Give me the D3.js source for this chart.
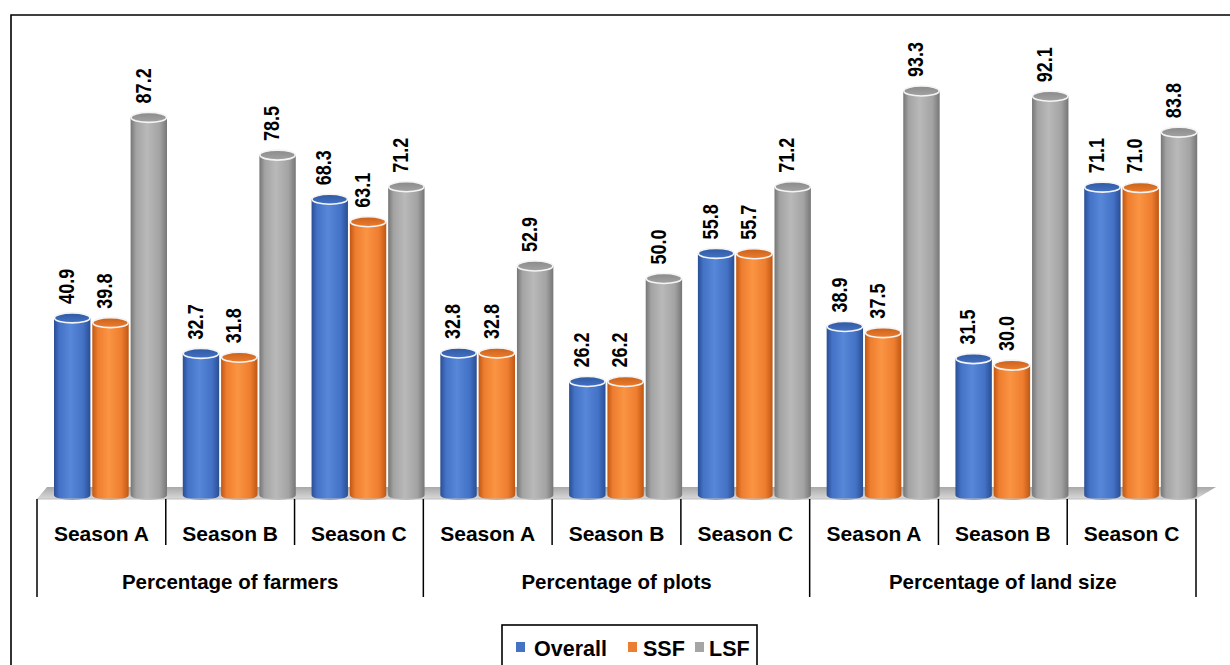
<!DOCTYPE html>
<html>
<head>
<meta charset="utf-8">
<script src="https://cdnjs.cloudflare.com/ajax/libs/d3/7.8.5/d3.min.js"></script>
<style>
  html, body { margin: 0; padding: 0; background: #fff; }
  svg { display: block; }
  text { font-family: "Liberation Sans", Arial, sans-serif; font-weight: bold; fill: #000; }
</style>
</head>
<body>
<svg id="chart" width="1230" height="665"></svg>
<script>
// ---- Data ----
const groups = ["Percentage of farmers", "Percentage of plots", "Percentage of land size"];
const seasons = ["Season A", "Season B", "Season C"];
const seriesNames = ["Overall", "SSF", "LSF"];
const overall = [40.9, 32.7, 68.3, 32.8, 26.2, 55.8, 38.9, 31.5, 71.1];
const ssf     = [39.8, 31.8, 63.1, 32.8, 26.2, 55.7, 37.5, 30.0, 71.0];
const lsf     = [87.2, 78.5, 71.2, 52.9, 50.0, 71.2, 93.3, 92.1, 83.8];
const seriesValues = [overall, ssf, lsf];

const colors = {
  Overall: { base: "#4472c4", dark: "#2a4e93", mid: "#4372c6", light: "#5787d8", top: "#30599f" },
  SSF:     { base: "#ed7d31", dark: "#bf5813", mid: "#ee7d2f", light: "#fa9443", top: "#c9621c" },
  LSF:     { base: "#a5a5a5", dark: "#767676", mid: "#a3a3a3", light: "#b9b9b9", top: "#8a8a8a" }
};

const svg = d3.select("#chart");
const defs = svg.append("defs");

const cats = [];
groups.forEach((g, gi) => seasons.forEach((s, si) => cats.push({ key: gi + "-" + si, group: g, season: s, idx: gi * 3 + si })));

const x0 = d3.scaleBand().domain(cats.map(c => c.key)).range([37, 1196]).padding(0);
const x1 = d3.scaleBand().domain(seriesNames).range([17, 130]).paddingInner(0.05).paddingOuter(0);
const y = d3.scaleLinear().domain([0, 100]).range([495, 62]);

// frame
svg.append("path").attr("d", "M11,665 L11,15 L1230,15").attr("fill", "none").attr("stroke", "#000").attr("stroke-width", 1.6);

// gradients
seriesNames.forEach(name => {
  const c = colors[name];
  const g = defs.append("linearGradient").attr("id", "grad-" + name).attr("x1", "0").attr("x2", "1").attr("y1", "0").attr("y2", "0");
  g.append("stop").attr("offset", "0").attr("stop-color", c.dark);
  g.append("stop").attr("offset", "0.15").attr("stop-color", c.mid);
  g.append("stop").attr("offset", "0.45").attr("stop-color", c.light);
  g.append("stop").attr("offset", "0.8").attr("stop-color", c.mid);
  g.append("stop").attr("offset", "1").attr("stop-color", c.dark);
  const t = defs.append("linearGradient").attr("id", "top-" + name).attr("x1", "0").attr("x2", "0").attr("y1", "0").attr("y2", "1");
  t.append("stop").attr("offset", "0").attr("stop-color", c.top);
  t.append("stop").attr("offset", "1").attr("stop-color", c.mid);
});
const floorGrad = defs.append("linearGradient").attr("id", "floor").attr("x1", "0").attr("x2", "0").attr("y1", "0").attr("y2", "1");
floorGrad.append("stop").attr("offset", "0").attr("stop-color", "#a8a8a8");
floorGrad.append("stop").attr("offset", "1").attr("stop-color", "#d9d9d9");

// floor
const x0L = x0.range()[0], x0R = x0.range()[1];
const yBase = y(0);
svg.append("path")
  .attr("d", `M${x0L},${yBase + 4} L${x0L + 10},${yBase - 8} L${x0R + 20},${yBase - 8} L${x0R},${yBase + 4} Z`)
  .attr("fill", "url(#floor)");

// bars (cylinders)
const ry = 5;
const barData = [];
cats.forEach(c => seriesNames.forEach((s, si) => barData.push({ cat: c, series: s, value: seriesValues[si][c.idx] })));

const bars = svg.append("g").selectAll("g.bar").data(barData).join("g").attr("class", "bar");
bars.each(function (d) {
  const g = d3.select(this);
  const bx = x0(d.cat.key) + x1(d.series);
  const bw = x1.bandwidth();
  const yt = y(d.value);
  const cx = bx + bw / 2;
  g.append("path")
    .attr("d", `M${bx},${yt} L${bx},${yBase} A${bw / 2},${ry} 0 0 0 ${bx + bw},${yBase} L${bx + bw},${yt} Z`)
    .attr("fill", "url(#grad-" + d.series + ")");
  g.append("ellipse").attr("cx", cx).attr("cy", yt).attr("rx", bw / 2 - 0.5).attr("ry", ry)
    .attr("fill", "url(#top-" + d.series + ")").attr("stroke", "#f4f4f4").attr("stroke-width", 1.6);
  g.append("text")
    .attr("transform", `translate(${cx - 6},${yt - 14}) rotate(-90) scale(0.82,1)`)
    .attr("dy", "0.35em")
    .attr("text-anchor", "start")
    .attr("font-size", 22)
    .text(d.value.toFixed(1));
});

// axis baseline and separators
const axisY = yBase + 4;
svg.append("line").attr("x1", x0L).attr("x2", x0R).attr("y1", axisY).attr("y2", axisY).attr("stroke", "#bdbdbd");
const bounds = cats.map(c => x0(c.key)).concat([x0R]);
bounds.forEach((bx, i) => {
  const major = i % 3 === 0;
  svg.append("line").attr("x1", bx).attr("x2", bx).attr("y1", axisY).attr("y2", major ? 597 : 545)
    .attr("stroke", "#000").attr("stroke-width", 1.5);
});

// season labels
svg.append("g").selectAll("text").data(cats).join("text")
  .attr("x", c => x0(c.key) + x0.bandwidth() / 2)
  .attr("y", 541)
  .attr("text-anchor", "middle")
  .attr("font-size", 21)
  .text(c => c.season);

// group labels
svg.append("g").selectAll("text").data(groups).join("text")
  .attr("x", (g, gi) => (x0(gi + "-0") + x0(gi + "-2") + x0.bandwidth()) / 2)
  .attr("y", 589)
  .attr("text-anchor", "middle")
  .attr("font-size", 20.5)
  .text(g => g);

// legend
const legend = svg.append("g");
legend.append("rect").attr("x", 502).attr("y", 625).attr("width", 255).attr("height", 60)
  .attr("fill", "#fff").attr("stroke", "#000").attr("stroke-width", 1.6);
const legendSq = [516, 628, 695];
const legendTx = [534, 643, 709];
seriesNames.forEach((s, i) => {
  legend.append("rect").attr("x", legendSq[i]).attr("y", 642).attr("width", 9).attr("height", 10).attr("fill", colors[s].base);
  legend.append("text").attr("x", legendTx[i]).attr("y", 656).attr("font-size", 21.5).text(s);
});
</script>
</body>
</html>
